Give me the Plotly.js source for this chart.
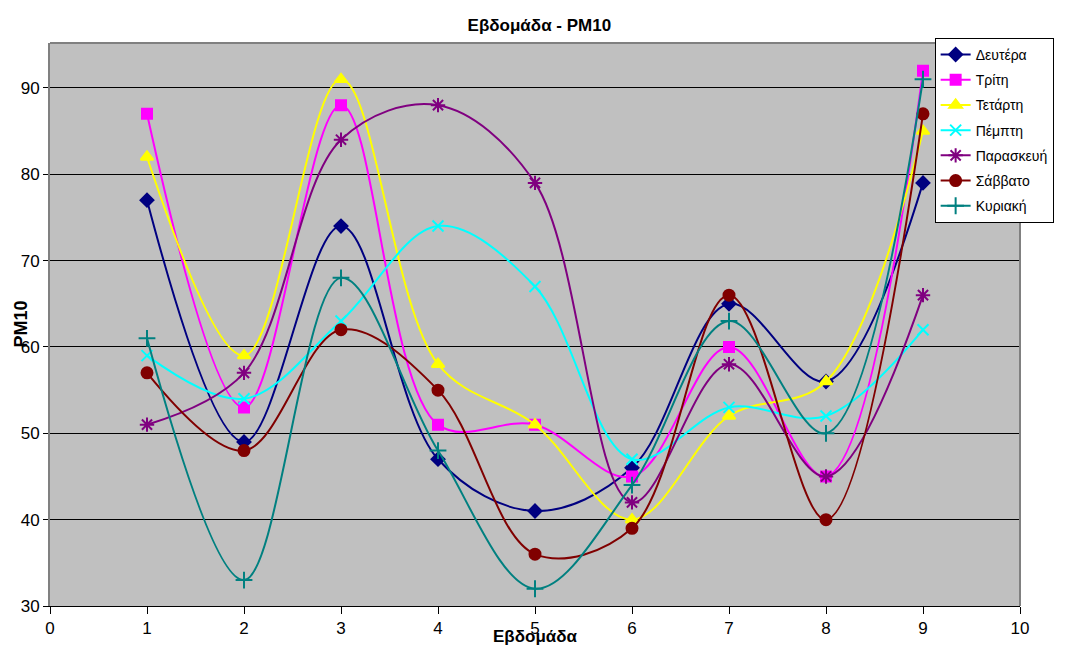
<!DOCTYPE html>
<html>
<head>
<meta charset="utf-8">
<script src="https://cdn.plot.ly/plotly-3.0.1.min.js"></script>
<style>html,body{margin:0;padding:0;background:#fff;}#chart{width:1068px;height:648px;}</style>
</head>
<body>
<div id="chart"></div>
<script>
const weeks = [1, 2, 3, 4, 5, 6, 7, 8, 9];
const seriesNames = ["Δευτέρα", "Τρίτη", "Τετάρτη", "Πέμπτη", "Παρασκευή", "Σάββατο", "Κυριακή"];
const deutera    = [77, 49, 74, 47, 41, 46, 65, 56, 79];
const triti      = [87, 53, 88, 51, 51, 45, 60, 45, 92];
const tetarti    = [82, 59, 91, 58, 51, 40, 52, 56, 85];
const pempti     = [59, 54, 63, 74, 67, 47, 53, 52, 62];
const paraskevi  = [51, 57, 84, 88, 79, 42, 58, 45, 66];
const savvato    = [57, 48, 62, 55, 36, 39, 66, 40, 87];
const kyriaki    = [61, 33, 68, 48, 32, 44, 63, 50, 91];
const xTickVals = [0,1,2,3,4,5,6,7,8,9,10];
const yTickVals = [30,40,50,60,70,80,90];

const values = [deutera, triti, tetarti, pempti, paraskevi, savvato, kyriaki];
const colors = ["#000080", "#FF00FF", "#FFFF00", "#00FFFF", "#800080", "#800000", "#008080"];
const symbols = ["diamond", "square", "triangle-up", "x-thin-open", "asterisk-open", "circle", "cross-thin-open"];
const sizes = [10, 10, 11, 11, 12, 11, 12];

const traces = values.map((v, i) => ({
  x: weeks, y: v, name: seriesNames[i], type: "scatter", mode: "lines+markers",
  legendgroup: "g" + i,
  line: {color: colors[i], width: 2, shape: "spline", smoothing: 1},
  marker: {symbol: symbols[i], size: sizes[i], color: colors[i], line: {color: colors[i], width: 2}}
}));

const layout = {
  width: 1068, height: 648,
  margin: {l: 50, r: 48, t: 43, b: 42},
  paper_bgcolor: "#FFFFFF",
  plot_bgcolor: "#C0C0C0",
  font: {family: "Liberation Sans, Arial, sans-serif", color: "#000"},
  title: {text: "<b>Εβδομάδα - PM10</b>", font: {size: 17, family: "Liberation Sans, Arial, sans-serif"}, x: 0.505, xanchor: "center", y: 0.961, yanchor: "middle"},
  xaxis: {
    range: [0, 10], tickvals: xTickVals, ticks: "outside", ticklen: 7, tickcolor: "#000",
    showgrid: false, zeroline: false, showline: true, linecolor: "#000", linewidth: 1,
    tickfont: {size: 17}, mirror: false
  },
  yaxis: {
    range: [30, 95.2], tickvals: yTickVals, ticks: "outside", ticklen: 5, tickcolor: "#000",
    showgrid: true, gridcolor: "#000", gridwidth: 1, zeroline: false,
    showline: true, linecolor: "#808080", linewidth: 2,
    tickfont: {size: 17}
  },
  shapes: [
    {type: "line", xref: "paper", yref: "paper", x0: 0, x1: 1, y0: 1, y1: 1, line: {color: "#808080", width: 2}},
    {type: "line", xref: "paper", yref: "paper", x0: 1, x1: 1, y0: 0, y1: 1, line: {color: "#808080", width: 2}}
  ],
  annotations: [
    {text: "<b>Εβδομάδα</b>", xref: "paper", yref: "paper", x: 0.5, y: 0, yshift: -30, xanchor: "center", yanchor: "middle", showarrow: false, font: {size: 17}},
    {text: "<b>PM10</b>", xref: "paper", yref: "paper", x: 0, xshift: -30, y: 0.5, xanchor: "center", yanchor: "middle", textangle: -90, showarrow: false, font: {size: 18}}
  ],
  legend: {
    x: 0.912, y: 1.009, xanchor: "left", yanchor: "top",
    bgcolor: "#FFFFFF", bordercolor: "#000", borderwidth: 1,
    font: {size: 14}, tracegroupgap: 4
  },
  showlegend: true
};

Plotly.newPlot("chart", traces, layout, {displayModeBar: false, staticPlot: true});
</script>
</body>
</html>
